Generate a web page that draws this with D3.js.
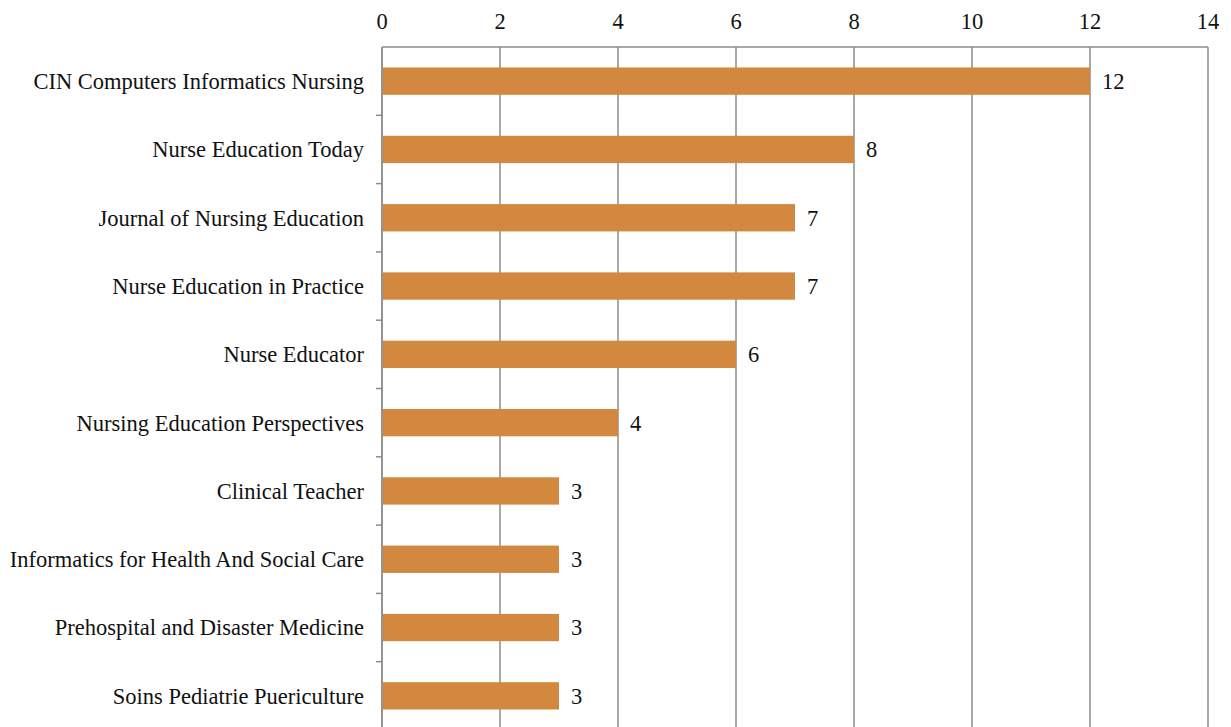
<!DOCTYPE html>
<html><head><meta charset="utf-8">
<script src="https://cdn.jsdelivr.net/npm/d3@7"></script>
<style>body{margin:0;background:#fff}svg{display:block}</style>
</head><body>
<script>
const categories = ["CIN Computers Informatics Nursing","Nurse Education Today","Journal of Nursing Education","Nurse Education in Practice","Nurse Educator","Nursing Education Perspectives","Clinical Teacher","Informatics for Health And Social Care","Prehospital and Disaster Medicine","Soins Pediatrie Puericulture"];
const values = [12,8,7,7,6,4,3,3,3,3];
const xTicks = [0,2,4,6,8,10,12,14];

const W=1231,H=727;
const m={left:382,right:23,top:47};
const step=68.3;
const svg=d3.select("body").append("svg").attr("width",W).attr("height",H);
const x=d3.scaleLinear().domain([0,14]).range([m.left,W-m.right]);
const y=d3.scaleBand().domain(categories).range([m.top,m.top+step*categories.length]).paddingInner(0.6).paddingOuter(0.3);
const font="'Liberation Serif','Times New Roman',serif";
const grid="#8c8c8c";
const fs=22.5;

svg.append("g").selectAll("line").data(xTicks).join("line")
  .attr("x1",d=>x(d)).attr("x2",d=>x(d)).attr("y1",m.top).attr("y2",H+5)
  .attr("stroke",grid).attr("stroke-width",1.5);
svg.append("line").attr("x1",x(0)).attr("x2",x(14)).attr("y1",m.top).attr("y2",m.top).attr("stroke",grid).attr("stroke-width",1.5);
svg.append("g").selectAll("text").data(xTicks).join("text")
  .attr("x",d=>x(d)).attr("y",29).attr("text-anchor","middle")
  .attr("font-family",font).attr("font-size",fs).attr("fill","#111").text(d=>d);
const bounds=d3.range(1,categories.length+1).map(i=>m.top+i*step);
svg.append("g").selectAll("line").data(bounds).join("line")
  .attr("x1",x(0)-6).attr("x2",x(0)).attr("y1",d=>d).attr("y2",d=>d)
  .attr("stroke",grid).attr("stroke-width",1.5);
svg.append("g").selectAll("rect").data(values).join("rect")
  .attr("x",x(0)+1).attr("y",(d,i)=>y(categories[i])).attr("width",d=>x(d)-x(0)-1).attr("height",y.bandwidth())
  .attr("fill","#D3883F");
svg.append("line").attr("x1",x(0)).attr("x2",x(0)).attr("y1",m.top).attr("y2",H+5).attr("stroke",grid).attr("stroke-width",1.5);
svg.append("g").selectAll("text").data(categories).join("text")
  .attr("x",x(0)-18).attr("y",d=>y(d)+y.bandwidth()/2).attr("dy","0.35em").attr("text-anchor","end")
  .attr("font-family",font).attr("font-size",fs).attr("fill","#111").text(d=>d);
svg.append("g").selectAll("text").data(values).join("text")
  .attr("x",d=>x(d)+12).attr("y",(d,i)=>y(categories[i])+y.bandwidth()/2).attr("dy","0.35em")
  .attr("font-family",font).attr("font-size",fs).attr("fill","#111").text(d=>d);
</script>
</body></html>
